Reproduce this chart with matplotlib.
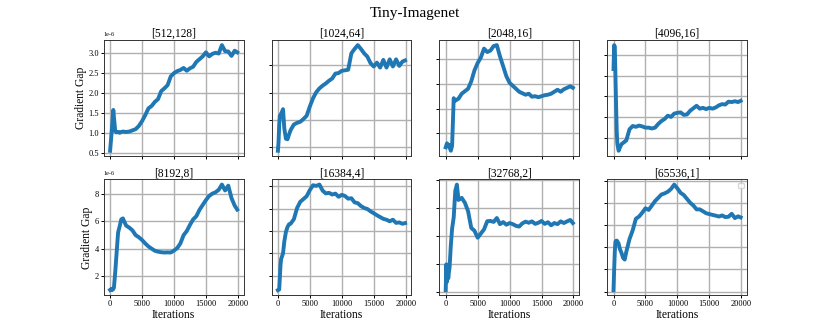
import numpy as np
import matplotlib
matplotlib.use("Agg")
import matplotlib.pyplot as plt
from matplotlib.ticker import MultipleLocator

plt.rcParams['font.family'] = ['Liberation Serif', 'DejaVu Serif']
plt.rcParams['axes.unicode_minus'] = False

# iterations at which the gradient gap was logged
iters = [0, 100, 200, 300, 400, 500, 600, 800, 1000, 1250, 1500, 1750, 2000,
         2500, 3000, 3500, 4000, 4500, 5000, 5500, 6000, 6500, 7000,
         7500, 8000, 8500, 9000, 9500, 10000, 10500, 11000, 11500, 12000,
         12500, 13000, 13500, 14000, 14500, 15000, 15500, 16000, 16500, 17000,
         17500, 18000, 18500, 19000, 19500, 19900]

titles = ['[512,128]', '[1024,64]', '[2048,16]', '[4096,16]',
          '[8192,8]', '[16384,4]', '[32768,2]', '[65536,1]']

# gradient gap values, in units of 1e-6
gap_512 = [0.56, 0.75, 0.95, 1.15, 1.35, 1.58, 1.40, 1.05, 1.02, 1.03, 1.01, 1.03, 1.04,
           1.03, 1.04, 1.07, 1.10, 1.18, 1.30, 1.45, 1.62, 1.68, 1.78,
           1.85, 2.05, 2.12, 2.20, 2.42, 2.50, 2.55, 2.58, 2.63, 2.56,
           2.62, 2.66, 2.78, 2.85, 2.92, 3.02, 2.92, 2.98, 3.01, 2.99,
           3.20, 3.05, 3.04, 2.93, 3.06, 3.02]
gap_1024 = [0.94, 1.10, 1.40, 1.58, 1.56, 1.62, 1.64, 1.70, 1.35, 1.16, 1.15, 1.24, 1.32,
            1.42, 1.45, 1.47, 1.52, 1.58, 1.75, 1.90, 2.01, 2.08, 2.13,
            2.17, 2.22, 2.26, 2.35, 2.36, 2.40, 2.41, 2.42, 2.72, 2.80,
            2.87, 2.80, 2.72, 2.66, 2.54, 2.48, 2.55, 2.46, 2.60, 2.46,
            2.61, 2.48, 2.61, 2.49, 2.57, 2.59]
gap_2048 = [0.72, 0.76, 0.80, 0.78, 0.74, 0.77, 0.72, 0.65, 0.75, 1.71, 1.66, 1.68, 1.70,
            1.80, 1.85, 1.90, 2.05, 2.27, 2.42, 2.53, 2.71, 2.64, 2.67,
            2.76, 2.78, 2.55, 2.35, 2.15, 2.02, 1.96, 1.90, 1.84, 1.81,
            1.78, 1.80, 1.74, 1.75, 1.73, 1.75, 1.77, 1.78, 1.80, 1.84,
            1.88, 1.84, 1.89, 1.92, 1.95, 1.92]
gap_4096 = [2.66, 3.24, 3.20, 2.50, 1.80, 1.15, 0.85, 0.68, 0.76, 0.84, 0.87, 0.90, 0.93,
            1.20, 1.28, 1.26, 1.29, 1.27, 1.24, 1.24, 1.22, 1.24, 1.33,
            1.40, 1.45, 1.53, 1.50, 1.58, 1.60, 1.61, 1.55, 1.56, 1.65,
            1.71, 1.77, 1.70, 1.72, 1.69, 1.72, 1.70, 1.73, 1.78, 1.81,
            1.80, 1.87, 1.86, 1.88, 1.86, 1.89]
gap_8192 = [1.02, 1.05, 1.10, 1.00, 1.06, 1.08, 1.20, 2.30, 3.60, 5.20, 5.65, 6.15, 6.22,
            5.70, 5.55, 5.35, 5.00, 4.85, 4.65, 4.40, 4.18, 4.02, 3.87,
            3.80, 3.76, 3.74, 3.75, 3.74, 3.88, 4.06, 4.40, 5.00, 5.30,
            5.75, 6.15, 6.38, 6.85, 7.20, 7.55, 7.85, 8.02, 8.12, 8.30,
            8.68, 8.25, 8.60, 7.70, 7.15, 6.86]
gap_16384 = [0.71, 0.74, 0.77, 1.80, 2.90, 3.50, 3.65, 4.00, 5.05, 5.90, 6.35, 6.60, 6.65,
             7.05, 8.05, 8.60, 8.85, 9.10, 9.65, 10.08, 10.02, 10.14, 9.60,
             9.35, 9.40, 9.25, 9.33, 9.05, 9.22, 9.12, 8.88, 8.92, 8.55,
             8.48, 8.22, 8.05, 7.96, 7.75, 7.58, 7.40, 7.24, 7.08, 7.00,
             6.86, 7.00, 6.72, 6.76, 6.64, 6.70]
gap_32768 = [2.10, 3.95, 2.70, 3.85, 2.95, 3.40, 3.70, 5.30, 6.50, 7.30, 9.20, 9.65, 8.55,
             8.70, 8.35, 7.75, 6.55, 6.35, 5.85, 6.15, 6.45, 7.03, 7.05,
             6.98, 7.26, 6.82, 6.97, 6.78, 6.90, 6.82, 6.70, 6.65, 6.88,
             7.00, 6.92, 7.02, 6.84, 6.92, 7.05, 6.84, 6.96, 6.74, 6.90,
             6.82, 7.02, 6.90, 7.02, 7.12, 6.90]
gap_65536 = [2.12, 4.00, 5.60, 6.50, 6.60, 6.62, 6.55, 6.35, 5.85, 5.50, 5.05, 4.90, 5.60,
             6.75, 7.55, 8.60, 8.80, 9.15, 9.55, 9.40, 9.80, 10.20, 10.50,
             10.80, 10.90, 11.05, 11.30, 11.70, 11.35, 10.95, 10.75, 10.40, 10.05,
             9.80, 9.45, 9.45, 9.28, 9.10, 9.02, 8.95, 8.88, 8.80, 8.90,
             8.75, 8.78, 9.05, 8.66, 8.82, 8.72]

gaps = [gap_512, gap_1024, gap_2048, gap_4096,
        gap_8192, gap_16384, gap_32768, gap_65536]

fig, axes = plt.subplots(2, 4, sharex=True, figsize=(8.3, 3.32), dpi=100)
fig.suptitle('Tiny-Imagenet', fontsize=11)

for i, ax in enumerate(axes.flat):
    row, col = divmod(i, 4)
    ax.plot(iters, np.array(gaps[i]) * 1e-6, color='#1f77b4', linewidth=2.8)
    ax.set_title(titles[i], fontsize=8.3, pad=1.8)
    ax.grid(True, color='#b0b0b0', linewidth=1.0)
    ax.set_axisbelow(True)
    ax.yaxis.set_major_locator(MultipleLocator(0.5e-6 if row == 0 else 2e-6))
    ax.xaxis.set_major_locator(MultipleLocator(5000))
    ax.tick_params(labelsize=6, length=2, width=0.7, pad=1.5)
    ax.yaxis.get_offset_text().set_fontsize(4.5)
    for s in ax.spines.values():
        s.set_linewidth(0.7)
        s.set_color('#333333')
    if col == 0:
        ax.set_ylabel('Gradient Gap', fontsize=8.3, labelpad=1)
    else:
        ax.tick_params(labelleft=False)
        ax.yaxis.get_offset_text().set_visible(False)
    if row == 1:
        ax.set_xlabel('Iterations', fontsize=8.3, labelpad=0.5)

# the original figure has an empty legend on the last panel
axes[1, 3].legend(loc='upper right', fontsize=5)

fig.savefig('out.png')
